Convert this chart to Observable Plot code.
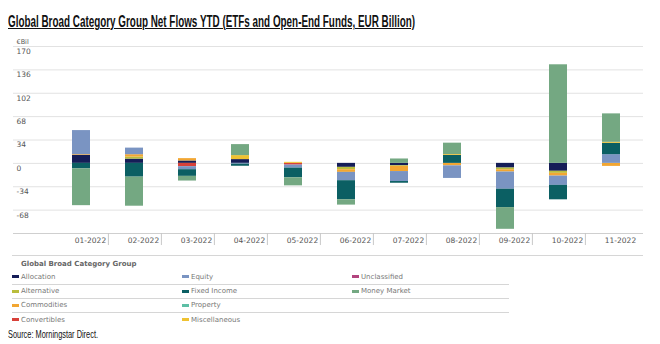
<!DOCTYPE html>
<html><head><meta charset="utf-8">
<script src="https://cdn.jsdelivr.net/npm/d3@7"></script>
<script src="https://cdn.jsdelivr.net/npm/@observablehq/plot@0.6"></script>
<style>
html,body{margin:0;padding:0;background:#fff}
body{width:660px;height:344px;position:relative;overflow:hidden;font-family:"DejaVu Sans",sans-serif}
#title{position:absolute;left:8px;top:13px;font:bold 16px "Liberation Sans Narrow","Liberation Sans",sans-serif;text-decoration:underline;white-space:nowrap;transform-origin:0 0;color:#111}
#chart{position:absolute;left:0;top:30px}
#legend{position:absolute;left:0;top:0;width:660px;height:344px;pointer-events:none}
.hl{position:absolute;height:1px;background:#d6d6d6}
.lt{position:absolute;font:bold 7px "DejaVu Sans",sans-serif;color:#666;white-space:nowrap;line-height:10px}
.li{position:absolute;font:7px "DejaVu Sans",sans-serif;color:#777;white-space:nowrap;line-height:10px}
.sw{position:absolute;width:7px;height:3px}
#source{position:absolute;left:8px;top:328px;font:11px "Liberation Sans Narrow","Liberation Sans",sans-serif;white-space:nowrap;transform-origin:0 0;color:#111;line-height:12px}
</style>
</head><body>
<div id="title">Global Broad Category Group Net Flows YTD (ETFs and Open-End Funds, EUR Billion)</div>
<div id="chart"></div>
<div id="legend"></div>
<div id="source">Source: Morningstar Direct.</div>
<script>
const months = ["01-2022","02-2022","03-2022","04-2022","05-2022","06-2022","07-2022","08-2022","09-2022","10-2022","11-2022"];
const categories = ["Allocation","Alternative","Commodities","Convertibles","Equity","Fixed Income","Miscellaneous","Money Market","Property","Unclassified"];
const colors = ["#151d57","#b9bd3c","#f2a632","#d8413a","#7a94c2","#0b5f63","#efc232","#74a882","#5dbfa5","#b2447e"];

const allocation    = [11.7,  6.2,  3.5,  5.5,   0,   -5.8, -3.4,   0,   -6.8, -11.5,   0];
const alternative   = [ 0,    2.9,  0,    0,     0,   -3.4, -1.0,   0,   -2.5,  -3.0,   0];
const commodities   = [ 1.0,  3.5,  3.4,  0,     0,   -3.9, -7.5,  -3.6, -3.3,  -4.0,  -4.4];
const convertibles  = [ 0,    0,   -4.8,  0,    -2.5,  0,    0,     0,    0,     0,     0];
const equity        = [35.0,  9.6, -4.4, -1.2,  -4.4, -12.1,-14.5, -18.3,-25.0, -13.5,  12.7];
const fixedIncome   = [-8.0,-20.0, -9.7, -3.0, -14.1, -27.7, -2.5,  11.7,-26.7, -21.0,  16.5];
const miscellaneous = [ 0,    0,    0,    5.8,   1.5,  0,    0,     1.2,  0,     0,     1.4];
const moneyMarket   = [-53.5,-42.3,-6.8, 16.0, -11.7,  -7.8,  6.4,  16.5,-31.6, 143.4,  41.4];
const property      = [ 0,    0,    0,    0,     0,    0,    0,     0,    0,     0,     0];
const unclassified  = [ 0,    0,    0,    0,     0,    0,    0,     0,    0,     0,     0];
const series = [allocation, alternative, commodities, convertibles, equity, fixedIncome, miscellaneous, moneyMarket, property, unclassified];

const yTicks = [170, 136, 102, 68, 34, 0, -34, -68];
const yMin = -102;
const unitLabel = "€Bil";

const legendTitle = "Global Broad Category Group";
const legendRows = [
  ["Allocation","Equity","Unclassified"],
  ["Alternative","Fixed Income","Money Market"],
  ["Commodities","Property"],
  ["Convertibles","Miscellaneous"]
];

const data = [];
categories.forEach((c, ci) => months.forEach((m, mi) => data.push({month: m, category: c, value: series[ci][mi]})));

const xRange = [50.6, 641.9];
const step = (xRange[1] - xRange[0]) / months.length;

const chart = Plot.plot({
  width: 660, height: 221,
  marginTop: 16, marginBottom: 18, marginLeft: 13, marginRight: 17,
  style: {fontFamily: "DejaVu Sans, sans-serif", background: "transparent"},
  x: {domain: months, range: xRange, paddingInner: 0.665, paddingOuter: 0.3325, axis: null},
  y: {domain: [yMin, yTicks[0]], axis: null},
  color: {domain: categories, range: colors},
  marks: [
    Plot.ruleY(yTicks, {stroke: "#e2e2e2", strokeWidth: 1}),
    Plot.ruleY([yMin], {stroke: "#cfcfcf", strokeWidth: 1}),
    Plot.barY(data, {x: "month", y: "value", fill: "category"}),
    Plot.text(yTicks, {y: d => d, text: d => String(d), frameAnchor: "left", dx: 3, dy: 5, textAnchor: "start", fontSize: 7.5, fill: "#555"}),
    Plot.text([unitLabel], {frameAnchor: "top-left", dx: 3, dy: -7.5, textAnchor: "start", fontSize: 6.5, fill: "#555"}),
    Plot.axisX({tickSize: 0, tickPadding: 4, dx: 9, fontSize: 7.5, fill: "#555", label: null}),
    Plot.ruleX(months.slice(0, -1), {x: d => d, dx: step / 2, y1: yMin, y2: yMin - 17.5, stroke: "#c8c8c8"})
  ]
});
document.getElementById("chart").appendChild(chart);

// legend
const L = document.getElementById("legend");
function add(cls, style, text) {
  const e = document.createElement("div");
  e.className = cls;
  Object.assign(e.style, style);
  if (text) e.textContent = text;
  L.appendChild(e);
  return e;
}
add("hl", {left: "12px", top: "255px", width: "631px"});
add("lt", {left: "21px", top: (263.7 - 5) + "px"}, legendTitle);
const rowY = [276.7, 291, 305, 319.7];
const colX = [12, 182, 352];
legendRows.forEach((row, ri) => {
  row.forEach((name, ci) => {
    const col = colors[categories.indexOf(name)];
    add("sw", {left: colX[ci] + "px", top: (rowY[ri] - 1.5) + "px", background: col});
    add("li", {left: (colX[ci] + 9) + "px", top: (rowY[ri] - 5) + "px"}, name);
  });
  if (ri < legendRows.length - 1) add("hl", {left: "12px", top: ((rowY[ri] + rowY[ri + 1]) / 2) + "px", width: "497px"});
});

// fit condensed texts to widths
function fit(id, w) {
  const e = document.getElementById(id);
  const r = e.getBoundingClientRect().width;
  e.style.transform = "scaleX(" + (w / r) + ")";
}
fit("title", 407);
fit("source", 90);
</script>
</body></html>
